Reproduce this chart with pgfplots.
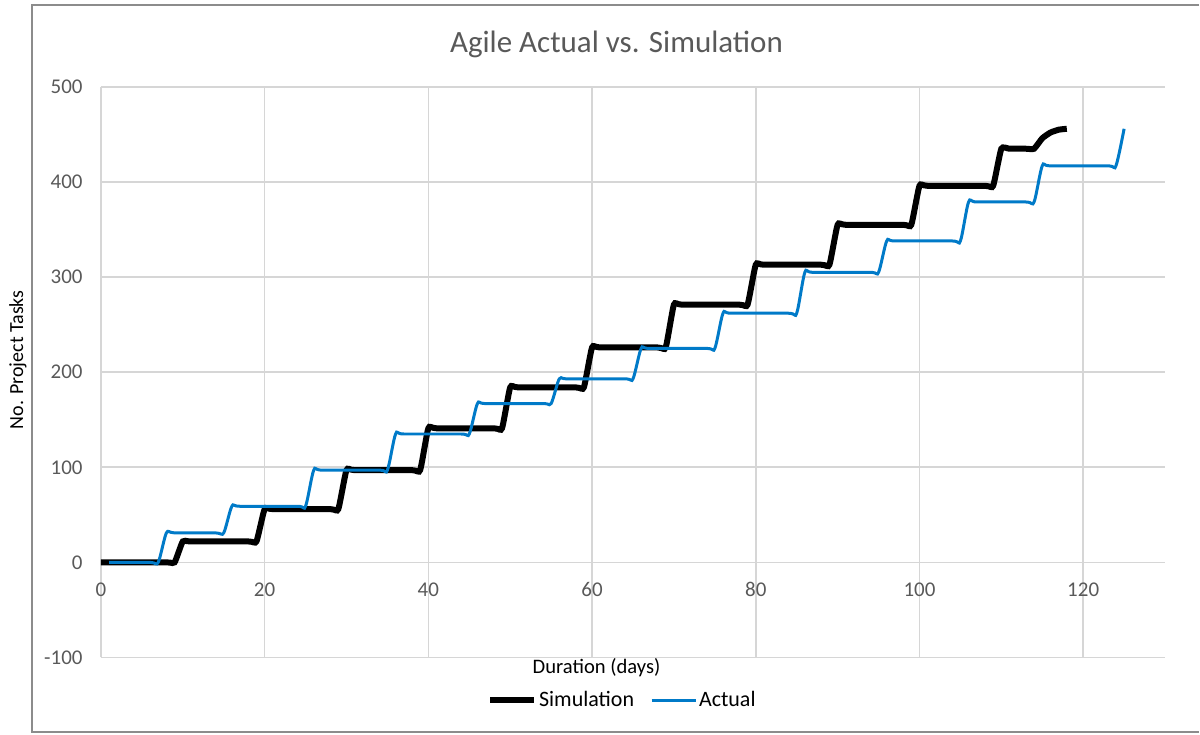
\documentclass[border=0pt]{standalone}
\usepackage{fontspec}
\setmainfont{Carlito}
\usepackage{pgfplots}
\pgfplotsset{compat=1.18}
\definecolor{actblue}{RGB}{0,122,200}
\definecolor{gridgray}{RGB}{214,214,214}
\definecolor{tickgray}{RGB}{89,89,89}
\definecolor{framegray}{RGB}{140,140,140}
\begin{document}
\begin{tikzpicture}
\begin{axis}[name=ax, scale only axis, width=532.5pt, height=285.5pt,
  xmin=0, xmax=130, ymin=-100, ymax=500,
  xtick={0,20,...,120}, ytick={-100,0,...,500},
  grid=major, major grid style={gridgray, line width=0.8pt},
  axis line style={draw=none}, major tick length=0pt,
  /pgf/number format/assume math mode=true,
  tick label style={font=\fontsize{10.5}{12}\selectfont, text=tickgray},
  yticklabel style={anchor=east, inner sep=0pt, xshift=-9pt},
  xticklabel style={anchor=center, inner sep=0pt, yshift=34pt},
  legend style={at={(0.490,-0.0753)}, anchor=center, draw=none, fill=none,
    legend columns=2, font=\fontsize{11}{13}\selectfont,
    /tikz/every even column/.append style={column sep=7pt},
    nodes={inner sep=1pt},
    inner sep=0pt},
  legend image code/.code={\draw[#1] (0pt,0pt) -- (22pt,0pt);},
  legend cell align=left,
]
\addplot[black, line width=3pt, smooth, tension=0.3] coordinates {
(0,0)(8,0)(9,0)(10,22)(11,22)(18,22)(19,22)(20,56)(21,56)(28,56)(29,56)(30,97)(31,97)
(38,97)(39,97)(40,141)(41,141)(48,141)(49,141)(50,184)(51,184)(58,184)(59,184)(60,226)(61,226)
(68,226)(69,226)(70,271)(71,271)(78,271)(79,271)(80,313)(81,313)(88,313)(89,313)(90,355)(91,355)
(98,355)(99,355)(100,396)(101,396)(108,396)(109,396)(110,435)(111,435)(113,435)(114,435)
(115,446)(116,452)(117,455)(118,456)};
\addlegendentry{Simulation}
\addplot[actblue, line width=1.5pt, smooth, tension=0.45] coordinates {
(1,0)(6,0)(7,0)(8,31)(9,31)(14,31)(15,31)(16,59)(17,59)(24,59)(25,59)(26,97)(27,97)
(34,97)(35,97)(36,135)(37,135)(44,135)(45,135)(46,167)(47,167)(54,167)(55,167)(56,193)(57,193)
(64,193)(65,193)(66,225)(67,225)(74,225)(75,225)(76,262)(77,262)(84,262)(85,262)(86,305)(87,305)
(94,305)(95,305)(96,338)(97,338)(104,338)(105,338)(106,379)(107,379)(113,379)(114,379)(115,417)(116,417)
(123,417)(124,417)(125,456)};
\addlegendentry{Actual}
\end{axis}
\node[font=\fontsize{15.5}{18}\selectfont, text=tickgray] at ([xshift=258pt,yshift=307pt]ax.south west) {Agile Actual vs. Simulation};
\node[font=\fontsize{10}{12}\selectfont, rotate=90] at ([xshift=-41.5pt,yshift=149pt]ax.south west) {No. Project Tasks};
\node[font=\fontsize{10.3}{12}\selectfont] at ([xshift=248pt,yshift=-5pt]ax.south west) {Duration (days)};
\draw[framegray, line width=1pt] ([xshift=549.5pt,yshift=326.5pt]ax.south west) -- ([xshift=-34.5pt,yshift=326.5pt]ax.south west) -- ([xshift=-34.5pt,yshift=-37.5pt]ax.south west) -- ([xshift=549.5pt,yshift=-37.5pt]ax.south west);
\path ([xshift=-50.5pt,yshift=-38.5pt]ax.south west) rectangle ([xshift=549.5pt,yshift=329pt]ax.south west);
\end{tikzpicture}
\end{document}
